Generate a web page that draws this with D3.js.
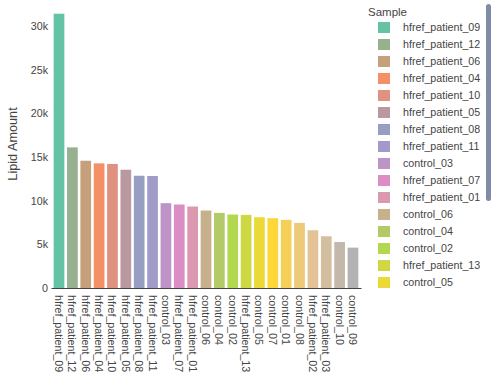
<!DOCTYPE html>
<html lang="en">
<head>
<meta charset="UTF-8">
<title>Lipid Amount by Sample</title>
<script src="https://d3js.org/d3.v7.min.js"></script>
<style>
  body { margin: 0; background: #fff; }
  svg { font-family: "Liberation Sans", Arial, sans-serif; }
</style>
</head>
<body>
<div id="chart"></div>
<script>
// samples sorted by lipid amount (descending)
var samples = ['hfref_patient_09', 'hfref_patient_12', 'hfref_patient_06', 'hfref_patient_04',
  'hfref_patient_10', 'hfref_patient_05', 'hfref_patient_08', 'hfref_patient_11', 'control_03',
  'hfref_patient_07', 'hfref_patient_01', 'control_06', 'control_04', 'control_02',
  'hfref_patient_13', 'control_05', 'control_07', 'control_01', 'control_08',
  'hfref_patient_02', 'hfref_patient_03', 'control_10', 'control_09'];
var amounts = [31400, 16100, 14570, 14270, 14200, 13540, 12850, 12820, 9710,
  9560, 9330, 8870, 8600, 8410, 8370, 8100, 7990, 7800, 7450,
  6610, 5920, 5260, 4620];
var yTicks = [0, 5000, 10000, 15000, 20000, 25000, 30000];

var W = 502, H = 385;
var margin = {top: 0, left: 51, right: 141, bottom: 97};
var plotW = W - margin.left - margin.right;
var plotH = H - margin.top - margin.bottom;

var svg = d3.select('#chart').append('svg')
  .attr('width', W).attr('height', H);

var g = svg.append('g')
  .attr('transform', 'translate(' + margin.left + ',' + margin.top + ')');

var x = d3.scaleBand().domain(samples).range([0, plotW]).padding(0.2);
var y = d3.scaleLinear().domain([0, d3.max(amounts) * 1.05]).range([plotH, 0]);

// colours interpolated across the Set2 palette
var colorAt = d3.piecewise(d3.interpolateRgb, d3.schemeSet2);
var color = function(i) { return colorAt(i / (samples.length - 1)); };

g.selectAll('rect.bar')
  .data(samples)
  .enter().append('rect')
  .attr('class', 'bar')
  .attr('x', function(d) { return x(d); })
  .attr('width', x.bandwidth())
  .attr('y', function(d, i) { return y(amounts[i]); })
  .attr('height', function(d, i) { return plotH - y(amounts[i]); })
  .attr('fill', function(d, i) { return color(i); });

// y axis (no line, labels only)
var yAxis = g.append('g')
  .call(d3.axisLeft(y).tickValues(yTicks).tickSize(0).tickPadding(3)
    .tickFormat(function(d) { return d === 0 ? '0' : d / 1000 + 'k'; }));
yAxis.select('.domain').remove();
yAxis.selectAll('text').attr('fill', '#444').style('font-size', '10.7px');

// x axis
var xAxis = g.append('g')
  .attr('transform', 'translate(0,' + plotH + ')')
  .call(d3.axisBottom(x).tickSize(0).tickPadding(0).tickSizeOuter(0));
xAxis.select('.domain').attr('stroke', '#444').attr('stroke-width', 1);
xAxis.selectAll('text')
  .attr('fill', '#444')
  .style('font-size', '10.7px')
  .attr('text-anchor', 'start')
  .attr('dy', null)
  .attr('transform', 'translate(-4,7) rotate(90)');

// y title
svg.append('text')
  .attr('transform', 'translate(17,' + (margin.top + plotH / 2) + ') rotate(-90)')
  .attr('text-anchor', 'middle')
  .attr('fill', '#444')
  .style('font-size', '12.7px')
  .text('Lipid Amount');

// legend (only the rows that fit in the scroll box are shown)
var legend = svg.append('g').attr('transform', 'translate(368,0)');
legend.append('text')
  .attr('x', 0).attr('y', 16)
  .attr('fill', '#444')
  .style('font-size', '11.5px')
  .text('Sample');

var rowH = 17, firstRow = 27.5, boxBottom = 291;
var visible = samples.filter(function(d, i) { return firstRow + i * rowH + 6 < boxBottom; });

var items = legend.selectAll('g.item')
  .data(visible)
  .enter().append('g')
  .attr('class', 'item')
  .attr('transform', function(d, i) { return 'translate(0,' + (firstRow + i * rowH) + ')'; });

items.append('rect')
  .attr('x', 10).attr('y', -5.5)
  .attr('width', 12).attr('height', 11)
  .attr('fill', function(d, i) { return color(i); });

items.append('text')
  .attr('x', 35).attr('y', 0).attr('dy', '0.35em')
  .attr('fill', '#444')
  .style('font-size', '10.7px')
  .text(function(d) { return d; });

// legend scrollbar
svg.append('rect')
  .attr('x', 486).attr('y', 4)
  .attr('width', 5).attr('height', 197)
  .attr('rx', 2.5)
  .attr('fill', '#808ba5');
</script>
</body>
</html>
